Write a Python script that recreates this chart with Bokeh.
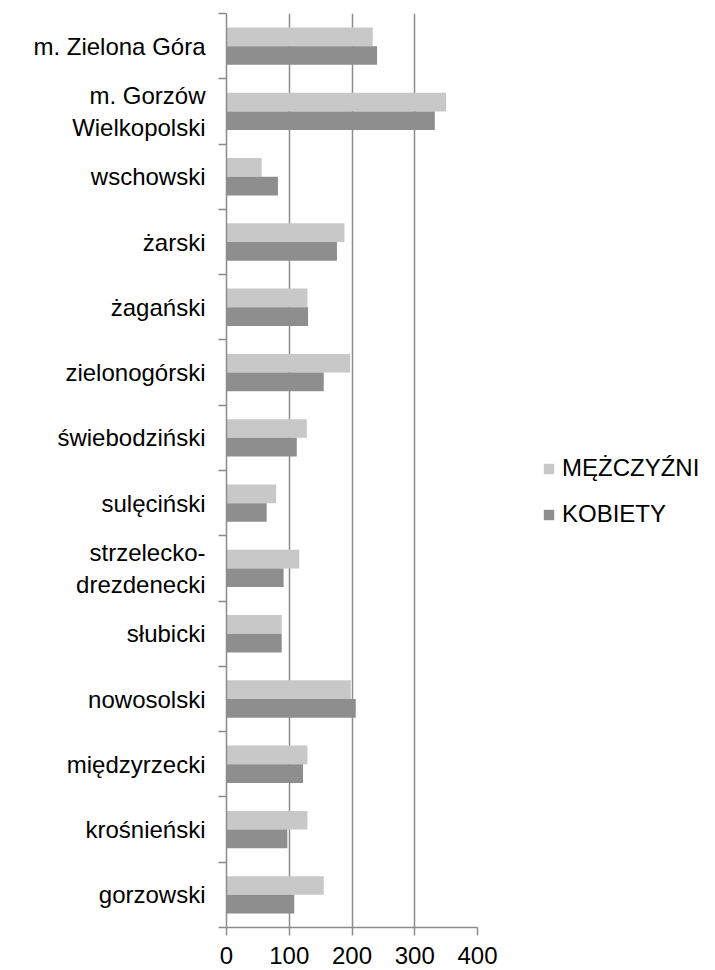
from bokeh.plotting import figure
from bokeh.models import Range1d, FixedTicker, Legend, LegendItem, ColumnDataSource
from bokeh.layouts import row
from bokeh.embed import file_html
from bokeh.resources import INLINE

categories = ["m. Zielona Góra", "m. Gorzów\nWielkopolski", "wschowski", "żarski", "żagański",
              "zielonogórski", "świebodziński", "sulęciński", "strzelecko-\ndrezdenecki",
              "słubicki", "nowosolski", "międzyrzecki", "krośnieński", "gorzowski"]
mezczyzni = [233, 350, 56, 188, 129, 197, 128, 79, 116, 88, 198, 129, 129, 155]
kobiety = [240, 332, 82, 176, 130, 155, 112, 64, 91, 88, 206, 122, 97, 108]
x_ticks = [0, 100, 200, 300, 400]
series_names = ["MĘŻCZYŹNI", "KOBIETY"]
series_colors = ["#c8c8c8", "#8e8e8e"]

n = len(categories)
centers = [n - 0.5 - i for i in range(n)]
bar_h = 0.286
src = ColumnDataSource(dict(
    ym=[c + bar_h / 2 for c in centers],
    yk=[c - bar_h / 2 for c in centers],
    m=mezczyzni, k=kobiety))

FONT = "Liberation Sans"
GRID = "#8c8c8c"

p = figure(width=499, height=970, x_range=Range1d(0, 400), y_range=Range1d(0, n),
           output_backend="svg", toolbar_location=None,
           min_border_left=226, min_border_right=22, min_border_top=13, min_border_bottom=43)
p.outline_line_color = None
p.background_fill_color = "white"
p.border_fill_color = "white"

rm = p.hbar(y="ym", right="m", left=0, height=bar_h, source=src,
            fill_color=series_colors[0], line_color=None)
rk = p.hbar(y="yk", right="k", left=0, height=bar_h, source=src,
            fill_color=series_colors[1], line_color=None)

# x axis
xa = p.xaxis[0]
xa.ticker = FixedTicker(ticks=x_ticks)
xa.major_tick_out = 8
xa.major_tick_in = 0
xa.minor_tick_out = 0
xa.minor_tick_in = 0
xa.axis_line_color = GRID
xa.axis_line_width = 1.5
xa.major_tick_line_color = GRID
xa.major_tick_line_width = 1.5
xa.major_label_text_font = FONT
xa.major_label_text_font_size = "24px"
xa.major_label_text_color = "black"
xa.major_label_standoff = 11

# y axis
ya = p.yaxis[0]
ya.ticker = FixedTicker(ticks=centers, minor_ticks=list(range(n + 1)))
ya.major_label_overrides = {c: lab for c, lab in zip(centers, categories)}
ya.major_tick_out = 0
ya.major_tick_in = 0
ya.minor_tick_out = 8
ya.minor_tick_in = 0
ya.minor_tick_line_color = GRID
ya.minor_tick_line_width = 1.5
ya.axis_line_color = GRID
ya.axis_line_width = 1.5
ya.major_label_text_font = FONT
ya.major_label_text_font_size = "24px"
ya.major_label_text_color = "black"
ya.major_label_standoff = 13

p.xgrid.ticker = FixedTicker(ticks=x_ticks[1:])
p.xgrid.grid_line_color = GRID
p.xgrid.grid_line_width = 1.5
p.ygrid.grid_line_color = None

# legend panel
p2 = figure(width=216, height=970, x_range=Range1d(0, 216), y_range=Range1d(0, 970),
            output_backend="svg", toolbar_location=None,
            min_border=0, min_border_left=0, min_border_right=0,
            min_border_top=0, min_border_bottom=0)
p2.axis.visible = False
p2.grid.visible = False
p2.outline_line_color = None
p2.border_fill_color = "white"
lm = p2.hbar(y="ym", right="m", left=0, height=bar_h, source=src,
             fill_color=series_colors[0], line_color=None, visible=False)
lk = p2.hbar(y="yk", right="k", left=0, height=bar_h, source=src,
             fill_color=series_colors[1], line_color=None, visible=False)
legend = Legend(items=[LegendItem(label=series_names[0], renderers=[lm]),
                       LegendItem(label=series_names[1], renderers=[lk])],
                location=(43, 399), margin=0, padding=0, spacing=18,
                glyph_width=13, glyph_height=13, label_standoff=7,
                inactive_fill_alpha=0,
                label_text_font=FONT, label_text_font_size="24px", label_text_color="black",
                border_line_color=None, background_fill_alpha=0)
p2.add_layout(legend, "center")

layout = row(p, p2, spacing=0)
open("out.html", "w").write(file_html(layout, INLINE))
